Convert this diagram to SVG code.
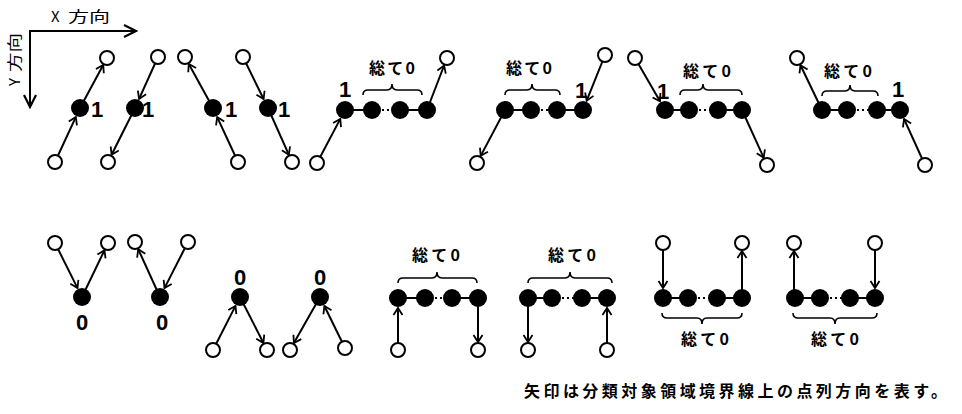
<svg xmlns="http://www.w3.org/2000/svg" width="962" height="414" viewBox="0 0 962 414">
<defs>
<style>
.o{fill:#fff;stroke:#000;stroke-width:2}
.f{fill:#000}
.c{fill:none;stroke:#000;stroke-width:2}
.cd{fill:none;stroke:#000;stroke-width:2;stroke-dasharray:2 3}
.a{fill:none;stroke:#000;stroke-width:2;marker-end:url(#ah)}
.br{fill:none;stroke:#000;stroke-width:1.6}
.n{font-family:"Liberation Sans",Arial,sans-serif;font-weight:bold;font-size:22px;fill:#000}
.z{font-family:"Liberation Sans",Arial,sans-serif;font-weight:bold;font-size:22px;fill:#000;text-anchor:middle}
.j{font-family:"Noto Sans CJK JP",sans-serif;font-weight:bold;font-size:16px;fill:#000;text-anchor:middle}
.ax{font-family:"Noto Sans CJK JP",sans-serif;font-size:15px;fill:#000}
</style>
<marker id="ah" viewBox="-9 -6 11 12" refX="0" refY="0" markerWidth="11" markerHeight="12" markerUnits="userSpaceOnUse" orient="auto">
<path d="M-7,-4.5 L0,0 L-7,4.5" fill="none" stroke="#000" stroke-width="1.8"/>
</marker>
<marker id="ahx" viewBox="-14 -8 16 16" refX="0" refY="0" markerWidth="16" markerHeight="16" markerUnits="userSpaceOnUse" orient="auto">
<path d="M-12,-6 L0,0 L-12,6" fill="none" stroke="#000" stroke-width="2.2"/>
</marker>
</defs>
<rect width="962" height="414" fill="#fff"/>

<g id="axes">
<line x1="30" y1="31" x2="136" y2="31" stroke="#000" stroke-width="2" marker-end="url(#ahx)"/>
<line x1="30" y1="30" x2="30" y2="107" stroke="#000" stroke-width="2" marker-end="url(#ahx)"/>
<text class="ax" x="51" y="22">X</text>
<text class="ax" x="68" y="22" textLength="42" lengthAdjust="spacingAndGlyphs">方向</text>
<g transform="translate(20,88) rotate(-90)">
<text class="ax" x="2" y="0">Y</text>
<text class="ax" x="16" y="0" textLength="39" lengthAdjust="spacingAndGlyphs">方向</text>
</g>
</g>

<g id="connectors">
<line class="a" x1="55" y1="162" x2="75.8" y2="117.1"/>
<line class="a" x1="80" y1="108" x2="103.2" y2="65"/>
<line class="a" x1="158" y1="57" x2="139.1" y2="98.9"/>
<line class="a" x1="135" y1="108" x2="111.6" y2="154.8"/>
<line class="a" x1="238" y1="162" x2="217.2" y2="117.1"/>
<line class="a" x1="213" y1="108" x2="188.8" y2="64"/>
<line class="a" x1="243" y1="57" x2="263.6" y2="99"/>
<line class="a" x1="268" y1="108" x2="288.8" y2="154.7"/>
<line class="c" x1="345" y1="110" x2="372" y2="110"/>
<line class="cd" x1="372" y1="110" x2="400" y2="110"/>
<line class="c" x1="400" y1="110" x2="427" y2="110"/>
<line class="a" x1="317" y1="163" x2="340.3" y2="118.9"/>
<line class="a" x1="427" y1="110" x2="444.1" y2="65.5"/>
<line class="c" x1="505" y1="110" x2="531" y2="110"/>
<line class="cd" x1="531" y1="110" x2="557" y2="110"/>
<line class="c" x1="557" y1="110" x2="583" y2="110"/>
<line class="a" x1="605" y1="55" x2="586.7" y2="100.7"/>
<line class="a" x1="505" y1="110" x2="480.7" y2="155.9"/>
<line class="c" x1="665" y1="110" x2="689" y2="110"/>
<line class="cd" x1="689" y1="110" x2="718" y2="110"/>
<line class="c" x1="718" y1="110" x2="742" y2="110"/>
<line class="a" x1="635" y1="58" x2="660" y2="101.3"/>
<line class="a" x1="742" y1="110" x2="763.7" y2="157.7"/>
<line class="c" x1="822" y1="110" x2="847" y2="110"/>
<line class="cd" x1="847" y1="110" x2="877" y2="110"/>
<line class="c" x1="877" y1="110" x2="900" y2="110"/>
<line class="a" x1="822" y1="110" x2="800.5" y2="65.2"/>
<line class="a" x1="925" y1="165" x2="904.1" y2="119.1"/>
<line class="a" x1="55" y1="243" x2="77.5" y2="288.1"/>
<line class="a" x1="82" y1="297" x2="104.5" y2="250.2"/>
<line class="a" x1="188" y1="242" x2="164.5" y2="288.1"/>
<line class="a" x1="160" y1="297" x2="138.3" y2="249.3"/>
<line class="a" x1="213" y1="350" x2="235.5" y2="305.9"/>
<line class="a" x1="240" y1="297" x2="263.4" y2="342.9"/>
<line class="a" x1="345" y1="348" x2="324.4" y2="306"/>
<line class="a" x1="320" y1="297" x2="293.9" y2="343"/>
<line class="c" x1="398" y1="298" x2="425" y2="298"/>
<line class="cd" x1="425" y1="298" x2="452" y2="298"/>
<line class="c" x1="452" y1="298" x2="478" y2="298"/>
<line class="a" x1="398" y1="350" x2="398" y2="308"/>
<line class="a" x1="478" y1="298" x2="478" y2="342"/>
<line class="c" x1="528" y1="298" x2="552" y2="298"/>
<line class="cd" x1="552" y1="298" x2="582" y2="298"/>
<line class="c" x1="582" y1="298" x2="607" y2="298"/>
<line class="a" x1="528" y1="298" x2="528" y2="342"/>
<line class="a" x1="607" y1="350" x2="607" y2="308"/>
<line class="c" x1="663" y1="298" x2="688" y2="298"/>
<line class="cd" x1="688" y1="298" x2="717" y2="298"/>
<line class="c" x1="717" y1="298" x2="742" y2="298"/>
<line class="a" x1="663" y1="243" x2="663" y2="288"/>
<line class="a" x1="742" y1="298" x2="742" y2="251"/>
<line class="c" x1="795" y1="298" x2="820" y2="298"/>
<line class="cd" x1="820" y1="298" x2="850" y2="298"/>
<line class="c" x1="850" y1="298" x2="875" y2="298"/>
<line class="a" x1="794" y1="298" x2="794" y2="251"/>
<line class="a" x1="875" y1="243" x2="875" y2="288"/>
<path class="br" d="M363,95 Q363,90 368,90 L387,90 Q392,90 392,84 Q392,90 397,90 L417,90 Q422,90 422,95"/>
<path class="br" d="M505,95 Q505,90 510,90 L527,90 Q532,90 532,84 Q532,90 537,90 L555,90 Q560,90 560,95"/>
<path class="br" d="M680,95 Q680,90 685,90 L698,90 Q703,90 703,84 Q703,90 708,90 L737,90 Q742,90 742,95"/>
<path class="br" d="M822,96 Q822,91 827,91 L845,91 Q850,91 850,85 Q850,91 855,91 L873,91 Q878,91 878,96"/>
<path class="br" d="M398,283 Q398,278 403,278 L432,278 Q437,278 437,272 Q437,278 442,278 L472,278 Q477,278 477,283"/>
<path class="br" d="M528,283 Q528,278 533,278 L565,278 Q570,278 570,272 Q570,278 575,278 L607,278 Q612,278 612,283"/>
<path class="br" d="M662,313 Q662,318 667,318 L697,318 Q702,318 702,324 Q702,318 707,318 L737,318 Q742,318 742,313"/>
<path class="br" d="M793,313 Q793,318 798,318 L830,318 Q835,318 835,324 Q835,318 840,318 L872,318 Q877,318 877,313"/>
</g>

<g id="p1-bot"><circle class="o" cx="55" cy="162" r="7"/></g>
<g id="p1-mid"><circle class="f" cx="80" cy="108" r="9"/><text class="n" x="91" y="117">1</text></g>
<g id="p1-top"><circle class="o" cx="107" cy="58" r="7"/></g>

<g id="p2-top"><circle class="o" cx="158" cy="57" r="7"/></g>
<g id="p2-mid"><circle class="f" cx="135" cy="108" r="9"/><text class="n" x="142" y="117">1</text></g>
<g id="p2-bot"><circle class="o" cx="108" cy="162" r="7"/></g>

<g id="p3-top"><circle class="o" cx="185" cy="57" r="7"/></g>
<g id="p3-mid"><circle class="f" cx="213" cy="108" r="9"/><text class="n" x="225" y="117">1</text></g>
<g id="p3-bot"><circle class="o" cx="238" cy="162" r="7"/></g>

<g id="p4-top"><circle class="o" cx="243" cy="57" r="7"/></g>
<g id="p4-mid"><circle class="f" cx="268" cy="108" r="9"/><text class="n" x="278" y="117">1</text></g>
<g id="p4-bot"><circle class="o" cx="292" cy="162" r="7"/></g>

<g id="p5-bot"><circle class="o" cx="317" cy="163" r="7"/></g>
<g id="p5-chain">
<circle class="f" cx="345" cy="110" r="9"/><circle class="f" cx="372" cy="110" r="9"/><circle class="f" cx="400" cy="110" r="9"/><circle class="f" cx="427" cy="110" r="9"/>
<text class="n" x="339" y="97">1</text>
<text class="j" x="392" y="74" textLength="46" lengthAdjust="spacing">総て0</text>
</g>
<g id="p5-top"><circle class="o" cx="447" cy="58" r="7"/></g>

<g id="p6-bot"><circle class="o" cx="477" cy="163" r="7"/></g>
<g id="p6-chain">
<circle class="f" cx="505" cy="110" r="9"/><circle class="f" cx="531" cy="110" r="9"/><circle class="f" cx="557" cy="110" r="9"/><circle class="f" cx="583" cy="110" r="9"/>
<text class="n" x="575" y="98">1</text>
<text class="j" x="529" y="74" textLength="46" lengthAdjust="spacing">総て0</text>
</g>
<g id="p6-top"><circle class="o" cx="605" cy="55" r="7"/></g>

<g id="p7-top"><circle class="o" cx="635" cy="58" r="7"/></g>
<g id="p7-chain">
<circle class="f" cx="665" cy="110" r="9"/><circle class="f" cx="689" cy="110" r="9"/><circle class="f" cx="718" cy="110" r="9"/><circle class="f" cx="742" cy="110" r="9"/>
<text class="n" x="657" y="99">1</text>
<text class="j" x="707" y="77" textLength="48" lengthAdjust="spacing">総て0</text>
</g>
<g id="p7-bot"><circle class="o" cx="767" cy="165" r="7"/></g>

<g id="p8-top"><circle class="o" cx="797" cy="58" r="7"/></g>
<g id="p8-chain">
<circle class="f" cx="822" cy="110" r="9"/><circle class="f" cx="847" cy="110" r="9"/><circle class="f" cx="877" cy="110" r="9"/><circle class="f" cx="900" cy="110" r="9"/>
<text class="n" x="892" y="97">1</text>
<text class="j" x="848" y="77" textLength="48" lengthAdjust="spacing">総て0</text>
</g>
<g id="p8-bot"><circle class="o" cx="925" cy="165" r="7"/></g>

<g id="b1-left"><circle class="o" cx="55" cy="243" r="7"/></g>
<g id="b1-mid"><circle class="f" cx="82" cy="297" r="9"/><text class="z" x="82" y="330">0</text></g>
<g id="b1-right"><circle class="o" cx="108" cy="243" r="7"/></g>

<g id="b2-left"><circle class="o" cx="135" cy="242" r="7"/></g>
<g id="b2-mid"><circle class="f" cx="160" cy="297" r="9"/><text class="z" x="162" y="330">0</text></g>
<g id="b2-right"><circle class="o" cx="188" cy="242" r="7"/></g>

<g id="b3-mid"><circle class="f" cx="240" cy="297" r="9"/><text class="z" x="240" y="285">0</text></g>
<g id="b3-left"><circle class="o" cx="213" cy="350" r="7"/></g>
<g id="b3-right"><circle class="o" cx="267" cy="350" r="7"/></g>

<g id="b4-mid"><circle class="f" cx="320" cy="297" r="9"/><text class="z" x="320" y="285">0</text></g>
<g id="b4-left"><circle class="o" cx="290" cy="350" r="7"/></g>
<g id="b4-right"><circle class="o" cx="345" cy="348" r="7"/></g>

<g id="b5-chain">
<circle class="f" cx="398" cy="298" r="9"/><circle class="f" cx="425" cy="298" r="9"/><circle class="f" cx="452" cy="298" r="9"/><circle class="f" cx="478" cy="298" r="9"/>
<text class="j" x="436" y="261" textLength="48" lengthAdjust="spacing">総て0</text>
</g>
<g id="b5-left"><circle class="o" cx="398" cy="350" r="7"/></g>
<g id="b5-right"><circle class="o" cx="478" cy="350" r="7"/></g>

<g id="b6-chain">
<circle class="f" cx="528" cy="298" r="9"/><circle class="f" cx="552" cy="298" r="9"/><circle class="f" cx="582" cy="298" r="9"/><circle class="f" cx="607" cy="298" r="9"/>
<text class="j" x="572" y="261" textLength="48" lengthAdjust="spacing">総て0</text>
</g>
<g id="b6-left"><circle class="o" cx="528" cy="350" r="7"/></g>
<g id="b6-right"><circle class="o" cx="607" cy="350" r="7"/></g>

<g id="b7-left"><circle class="o" cx="663" cy="243" r="7"/></g>
<g id="b7-right"><circle class="o" cx="742" cy="243" r="7"/></g>
<g id="b7-chain">
<circle class="f" cx="663" cy="298" r="9"/><circle class="f" cx="688" cy="298" r="9"/><circle class="f" cx="717" cy="298" r="9"/><circle class="f" cx="742" cy="298" r="9"/>
<text class="j" x="705" y="345" textLength="48" lengthAdjust="spacing">総て0</text>
</g>

<g id="b8-left"><circle class="o" cx="794" cy="243" r="7"/></g>
<g id="b8-right"><circle class="o" cx="875" cy="243" r="7"/></g>
<g id="b8-chain">
<circle class="f" cx="795" cy="298" r="9"/><circle class="f" cx="820" cy="298" r="9"/><circle class="f" cx="850" cy="298" r="9"/><circle class="f" cx="875" cy="298" r="9"/>
<text class="j" x="835" y="345" textLength="48" lengthAdjust="spacing">総て0</text>
</g>

<g id="note">
<text x="524" y="397" font-family="'Noto Sans CJK JP',sans-serif" font-weight="bold" font-size="16" textLength="423" lengthAdjust="spacing">矢印は分類対象領域境界線上の点列方向を表す。</text>
</g>
</svg>
